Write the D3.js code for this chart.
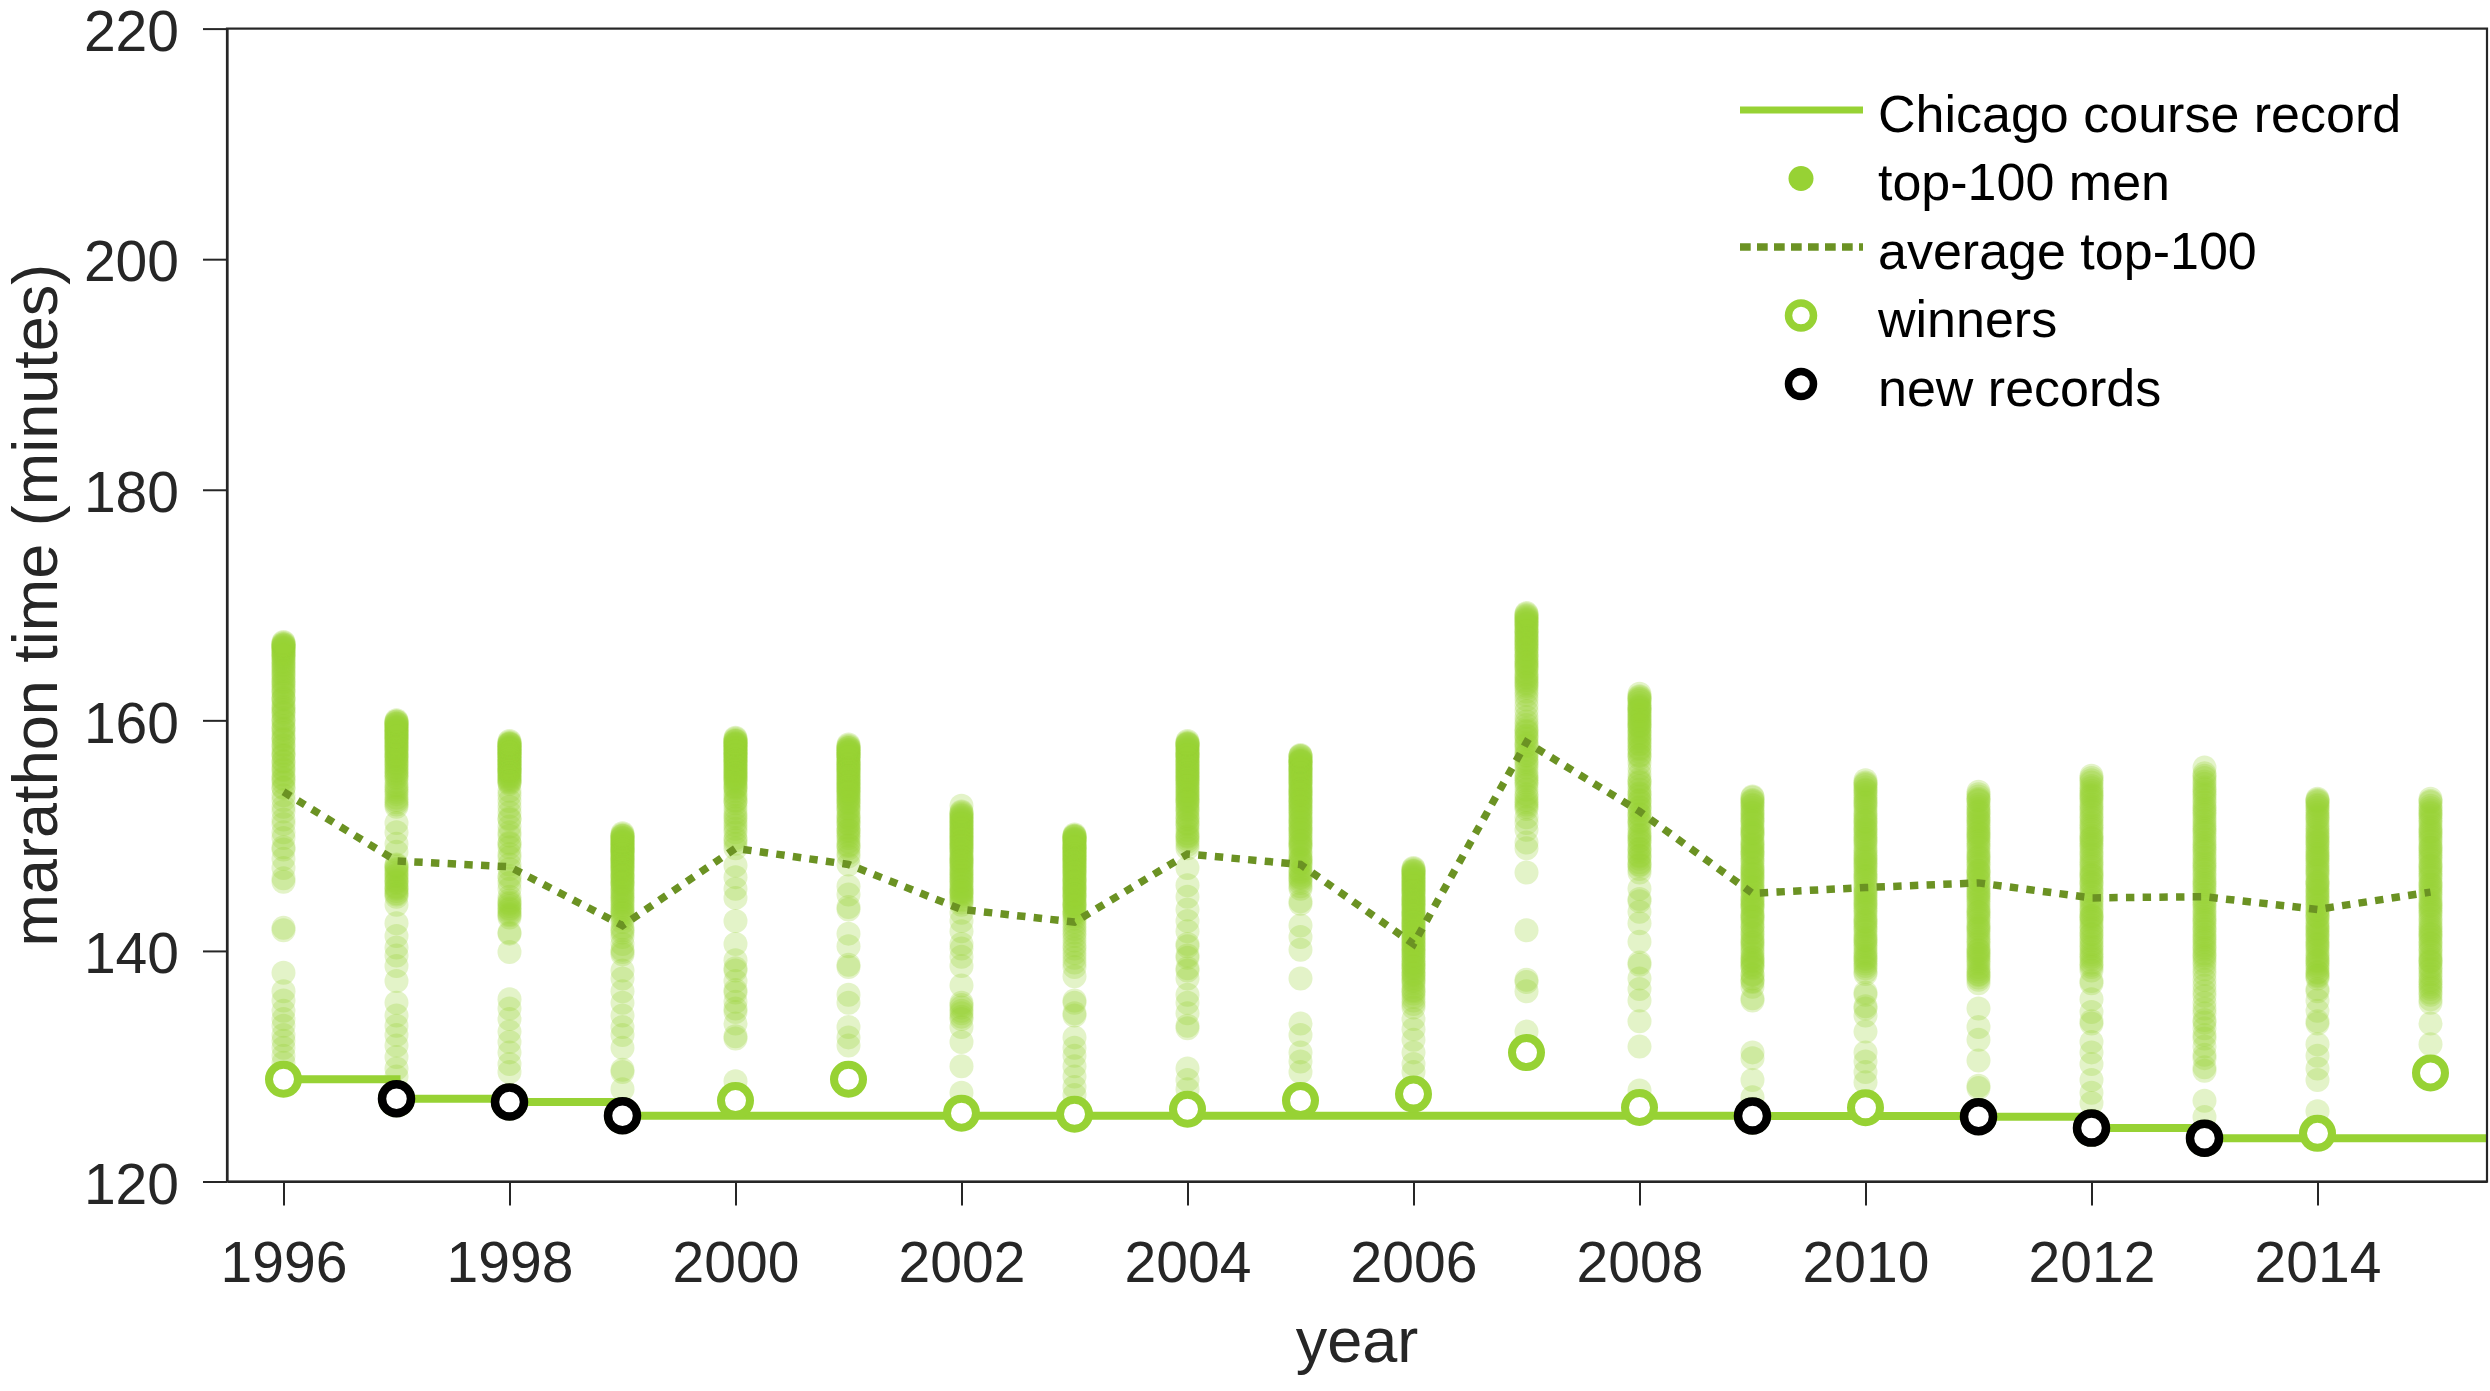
<!DOCTYPE html>
<html>
<head>
<meta charset="utf-8">
<script src="https://cdn.jsdelivr.net/npm/d3@7"></script>
<style>
html,body{margin:0;padding:0;background:#fff;}
svg{display:block;font-family:"Liberation Sans",Arial,Helvetica,sans-serif;}
</style>
</head>
<body>
<svg id="chart" width="2490" height="1391"></svg>
<script>
// ---------------- DATA ----------------
const years = [1996,1997,1998,1999,2000,2001,2002,2003,2004,2005,2006,2007,2008,2009,2010,2011,2012,2013,2014,2015];
const winnerTimes = [128.87,127.17,126.90,125.70,127.02,128.87,125.93,125.83,126.27,127.03,127.58,131.18,126.42,125.68,126.40,125.62,124.63,123.75,124.18,129.42];
const courseRecord = [128.87,127.17,126.90,125.70,125.70,125.70,125.70,125.70,125.70,125.70,125.70,125.70,125.70,125.68,125.68,125.62,124.63,123.75,123.75,123.75];
const newRecordYears = [1997,1998,1999,2009,2011,2012,2013];
const averageTop100 = [153.8,147.8,147.3,142.2,148.9,147.5,143.6,142.5,148.4,147.5,140.6,158.1,152.1,145.0,145.5,145.9,144.6,144.7,143.6,145.1];
const xTickYears = [1996,1998,2000,2002,2004,2006,2008,2010,2012,2014];
const yTickValues = [120,140,160,180,200,220];
const legendLabels = ["Chicago course record","top-100 men","average top-100","winners","new records"];

const top100_1996 = [128.9,130.3,130.9,131.6,132.2,132.7,133.5,134.1,134.8,135.7,136.5,138.1,141.8,142.0,
146.0,146.3,147.2,148.0,148.8,149.0,149.8,150.3,151.0,151.4,152.1,152.5,153.1,153.5,
154.1,154.2,154.6,154.9,155.0,155.3,155.7,155.8,156.1,156.4,156.5,156.9,157.0,157.2,157.5,157.8,157.9,158.3,158.4,158.6,
158.9,159.2,159.3,159.5,159.9,160.0,160.2,160.6,160.7,160.9,161.1,161.2,161.5,161.8,161.9,162.0,162.4,162.5,162.7,162.9,
163.1,163.3,163.4,163.6,163.8,164.0,164.1,164.3,164.5,164.6,164.8,164.9,165.1,165.2,165.4,165.5,165.7,165.8,165.9,166.0,
166.1,166.2,166.3,166.4,166.5,166.5,166.6,166.6,166.7,166.8,166.3,165.6];
const top100_1997 = [127.2,129.1,129.8,130.8,131.8,132.7,133.5,134.4,135.5,137.4,138.7,139.6,140.3,141.3,142.4,144.0,
144.7,144.9,145.0,145.2,145.4,145.5,145.6,145.9,146.0,146.1,146.3,146.5,146.6,146.8,147.0,147.1,147.3,147.4,147.5,
148.6,149.3,150.3,151.1,152.5,152.7,152.9,153.1,153.3,153.6,153.8,154.0,154.2,154.4,154.7,
155.0,155.1,155.3,155.4,155.6,155.7,155.9,156.0,156.2,156.3,156.4,156.6,156.7,156.9,157.0,157.1,157.3,157.4,157.5,157.7,
157.8,157.9,158.0,158.2,158.3,158.4,158.5,158.6,158.7,158.8,158.9,159.0,159.1,159.2,159.3,159.4,159.5,159.6,159.7,159.8,
159.9,160.0,156.8,157.6,158.1,158.6,159.0,159.4,159.7,159.9];
const top100_1998 = [126.9,129.5,130.2,131.2,132.1,133.0,134.1,135.0,135.8,139.9,141.5,141.6,
142.9,143.1,143.2,143.4,143.6,143.7,143.9,144.1,144.2,144.4,144.7,
145.4,145.9,146.3,146.5,147.1,147.5,148.1,148.4,149.0,149.3,149.4,150.0,150.3,150.8,151.4,151.5,152.0,152.5,153.0,153.5,153.9,
154.5,154.6,154.8,154.9,155.0,155.2,155.3,155.5,155.6,155.7,155.8,156.0,156.1,156.2,156.4,156.5,156.6,156.7,156.8,157.0,
157.1,157.2,157.3,157.4,157.5,157.6,157.7,157.8,157.9,158.0,158.1,158.2,155.4,155.9,156.3,156.9,157.3,157.6,157.9,158.0,
156.1,155.1,154.7,157.0,157.5,156.6,155.8,157.2,156.4,157.7,155.6,156.8];
const top100_1999 = [125.7,128.0,129.5,129.7,131.6,132.7,133.4,134.4,135.5,136.5,137.6,138.3,139.7,139.9,140.1,140.6,141.2,141.6,141.8,142.0,142.5,
142.8,143.0,143.3,143.5,143.6,143.8,144.0,144.2,144.5,144.7,144.8,145.0,145.2,145.3,145.5,145.7,145.8,146.0,146.1,146.3,
146.4,146.6,146.7,146.9,147.0,147.2,147.3,147.4,147.6,147.7,147.8,148.0,148.1,148.2,148.3,148.5,148.6,148.7,148.8,148.9,
149.0,149.1,149.2,149.3,149.4,149.5,149.6,149.7,149.8,149.9,150.0,150.1,150.2,
147.5,148.4,149.0,149.5,148.8,147.9,146.5,145.9,144.4,143.2,149.3,148.0,150.0,149.8,148.6,147.1];
const top100_2000 = [127.0,128.7,132.4,132.6,133.7,134.7,135.0,135.6,136.4,136.6,137.4,138.3,138.5,139.2,140.6,142.6,144.6,145.4,146.4,147.4,
148.9,149.3,149.8,150.3,150.6,151.2,151.5,152.0,152.4,152.8,153.1,153.4,153.6,153.9,154.1,154.3,154.5,154.7,154.9,155.0,
155.2,155.3,155.5,155.6,155.8,155.9,156.1,156.2,156.3,156.5,156.6,156.7,156.8,157.0,157.1,157.2,157.3,157.4,157.6,157.7,
157.8,157.9,158.0,158.1,158.2,158.3,158.4,158.5,
156.0,156.9,157.5,155.4,154.8,157.9,158.2,156.4,155.7,157.0,153.0,151.7,150.9,149.6,156.6,157.6,158.0,155.1,154.2,157.3];
const top100_2001 = [128.9,131.8,132.5,133.4,135.5,136.2,138.6,138.8,140.4,141.5,143.6,143.8,144.9,145.6,147.5,
148.2,148.5,148.9,149.2,149.5,149.8,150.2,150.5,150.7,151.0,151.3,151.5,151.8,152.1,152.3,152.6,152.8,153.0,153.2,153.4,
153.6,153.8,154.0,154.2,154.4,154.5,154.7,154.9,155.0,155.2,155.3,155.5,155.6,155.8,155.9,156.0,156.2,156.3,156.4,156.6,
156.7,156.8,156.9,157.0,157.1,157.2,157.3,157.4,157.5,157.6,157.7,157.8,157.9,
150.0,151.1,152.4,153.3,154.1,154.8,155.4,156.1,156.5,157.0,157.4,155.7,154.6,153.7,152.9,151.6,150.4,149.1,157.6,156.8,
155.1,154.3,153.9,157.2,156.2,155.8];
const top100_2002 = [125.9,127.7,130.0,132.1,133.4,134.1,134.3,134.6,134.8,135.1,135.3,135.5,137.0,138.7,139.5,140.2,140.6,141.7,142.6,143.3,
144.0,144.2,144.5,144.7,144.9,145.1,145.3,145.6,145.8,146.0,146.2,146.4,146.6,146.8,147.0,147.2,147.3,147.5,147.7,147.9,
148.0,148.2,148.4,148.5,148.7,148.9,149.0,149.2,149.3,149.5,149.6,149.8,149.9,150.1,150.2,150.4,150.5,150.7,150.8,150.9,
151.1,151.2,151.4,151.5,151.6,151.8,151.9,152.0,152.1,152.6,
145.0,146.5,147.6,148.8,149.7,150.6,151.3,151.7,150.0,149.1,148.1,146.9,145.5,144.4,151.0,150.3,149.4,147.8,146.1,145.2];
const top100_2003 = [125.8,127.5,128.2,129.1,130.0,130.9,131.6,132.5,134.4,134.6,135.5,135.7,137.8,138.6,
139.0,139.4,139.8,140.2,140.5,140.9,141.3,141.6,141.9,142.2,142.5,142.8,143.0,143.2,143.4,143.6,143.8,144.0,144.2,144.4,
144.6,144.8,145.0,145.2,145.4,145.5,145.7,145.9,146.1,146.2,146.4,146.6,146.7,146.9,147.1,147.2,147.4,147.5,147.7,147.8,
148.0,148.1,148.3,148.4,148.5,148.7,148.8,148.9,149.1,149.2,149.3,149.5,149.6,149.7,149.8,149.9,150.0,150.1,
143.9,144.7,145.6,146.3,147.0,147.6,148.2,148.6,149.0,149.4,150.0,149.7,149.0,148.0,146.8,145.3,144.1,143.3,149.9,148.9,
147.3,146.0,144.9,149.6,148.4,147.9];
const top100_2004 = [126.3,128.0,128.8,129.8,133.3,133.5,134.6,135.5,136.2,137.6,138.3,138.5,139.4,139.6,140.4,140.6,141.7,142.6,143.6,144.7,145.7,147.2,
148.9,149.2,149.5,149.9,150.2,150.5,150.8,151.1,151.4,151.7,152.0,152.2,152.5,152.7,153.0,153.2,153.4,153.6,153.8,154.0,
154.2,154.4,154.6,154.8,155.0,155.1,155.3,155.5,155.6,155.8,155.9,156.1,156.2,156.4,156.5,156.6,156.8,156.9,157.0,157.1,
157.2,157.4,157.5,157.6,157.7,157.8,157.9,158.0,158.1,158.2,
150.0,151.0,152.3,153.1,153.9,154.7,155.4,156.0,156.7,157.3,157.9,155.2,154.3,153.5,152.9,151.5,149.7,157.0,156.3,155.7,154.9,158.0];
const top100_2005 = [127.0,129.5,130.4,131.2,132.7,133.7,137.6,140.1,141.2,142.2,144.1,144.3,
145.4,145.6,145.9,146.1,146.4,146.6,146.9,147.1,147.4,147.6,147.9,148.1,148.4,148.6,148.9,149.1,149.3,149.6,149.8,150.0,
150.3,150.5,150.7,150.9,151.1,151.3,151.6,151.8,152.0,152.2,152.4,152.6,152.8,153.0,153.2,153.4,153.5,153.7,153.9,154.1,
154.2,154.4,154.6,154.7,154.9,155.0,155.2,155.3,155.5,155.6,155.8,155.9,156.0,156.2,156.3,156.4,156.5,156.6,156.7,156.8,
156.9,157.0,
146.8,148.0,149.2,150.2,151.2,152.1,153.1,153.8,154.5,155.1,155.7,156.1,156.5,156.9,155.4,154.0,152.9,151.5,150.6,149.5,
147.7,146.3,156.4,155.8,154.8,153.6,152.5];
const top100_2006 = [127.6,129.5,130.2,131.2,132.3,133.2,134.1,135.1,135.4,135.7,136.0,136.3,136.6,136.9,137.2,137.4,137.7,137.9,138.1,138.3,
138.5,138.7,138.9,139.1,139.3,139.5,139.7,139.9,140.0,140.2,140.4,140.5,140.7,140.9,141.0,141.2,141.4,141.5,141.7,141.8,
142.0,142.1,142.3,142.4,142.6,142.7,142.9,143.0,143.2,143.3,143.5,143.6,143.8,143.9,144.0,144.2,144.3,144.5,144.6,144.7,
144.9,145.0,145.1,145.3,145.4,145.5,145.7,145.8,145.9,146.0,146.2,146.3,146.4,146.5,146.6,146.7,146.8,146.9,147.0,147.1,147.2,
138.0,139.0,140.1,141.1,142.2,143.1,144.1,145.2,146.1,146.9,145.6,144.4,143.4,142.5,141.6,140.6,139.6,138.6,137.5,136.5];
const top100_2007 = [131.2,133.0,136.5,137.3,137.5,141.8,146.8,148.9,149.4,150.5,151.1,151.6,152.3,152.5,152.7,153.1,153.6,154.0,154.4,154.8,
155.2,155.5,155.9,156.2,156.6,156.9,157.2,157.5,157.8,158.1,158.4,158.7,159.0,159.3,159.6,159.9,160.3,160.8,161.3,161.8,
162.2,162.5,162.8,163.0,163.3,163.5,163.8,164.0,164.2,164.5,164.7,164.9,165.1,165.3,165.5,165.7,165.9,166.1,166.3,166.5,
166.6,166.8,167.0,167.2,167.3,167.5,167.6,167.8,167.9,168.1,168.2,168.4,168.5,168.7,168.8,168.9,169.0,169.1,169.2,169.3,
153.4,155.0,156.4,157.9,159.1,163.7,164.6,165.6,166.7,167.7,168.6,163.2,165.0,166.2,167.1,168.3,157.0,154.6,158.6,152.9];
const top100_2008 = [126.4,127.9,131.7,133.9,135.7,136.7,137.6,138.8,139.0,140.8,142.4,143.4,144.3,144.5,145.4,
146.8,147.1,147.4,147.7,148.0,148.3,148.6,148.9,149.2,149.5,149.8,150.1,150.4,150.7,151.0,151.3,151.6,151.9,152.2,152.5,
152.8,153.1,153.4,153.7,154.0,154.3,154.6,154.9,155.3,155.8,156.3,156.7,157.0,157.3,157.6,157.9,158.2,158.4,158.7,158.9,
159.2,159.4,159.7,159.9,160.1,160.3,160.5,160.7,160.9,161.1,161.3,161.5,161.7,161.9,162.1,162.3,
147.5,148.8,150.0,151.2,152.4,153.6,154.7,157.5,158.5,159.5,160.4,161.2,162.0,159.0,160.0,161.0,161.8,158.0,156.9,153.0,
149.6,148.2,151.8,160.8,159.6];
const top100_2009 = [125.7,127.3,128.8,130.7,131.2,135.7,135.9,
136.9,137.3,137.4,137.9,138.0,138.5,138.6,139.1,139.4,139.5,140.0,140.3,140.7,140.8,141.2,141.5,141.6,142.1,142.2,142.7,
143.0,143.1,143.6,143.8,144.2,144.3,144.8,145.1,145.2,145.7,145.9,146.3,146.4,146.9,147.2,147.3,147.8,148.0,148.4,148.5,
149.0,149.3,149.4,149.9,150.1,150.5,150.6,151.1,151.4,151.5,152.0,152.2,152.6,152.7,153.1,153.4,
139.2,140.5,141.9,143.3,144.6,146.1,147.6,148.8,150.2,151.7,152.9,150.8,149.6,148.2,146.7,145.4,144.0,142.5,141.0,139.8,
152.4,150.3,147.0,143.9,138.8,145.5,146.6,148.6,151.2,153.0,137.6,138.9,142.9,144.5,149.1,151.9,153.3];
const top100_2010 = [126.4,128.6,129.5,130.4,131.2,133.0,134.4,135.0,135.2,136.2,136.4,
138.0,138.2,138.7,138.9,139.3,139.6,139.8,140.3,140.5,140.9,141.2,141.4,141.9,142.1,142.5,142.8,143.0,143.5,143.7,144.1,
144.4,144.6,145.1,145.3,145.7,146.0,146.2,146.7,146.9,147.3,147.6,147.8,148.3,148.5,148.9,149.2,149.4,149.9,150.1,150.5,
150.8,151.0,151.5,151.7,152.1,152.4,152.6,153.1,153.3,153.7,154.0,154.2,154.6,154.8,
139.1,140.7,142.3,143.9,145.5,147.1,148.7,150.3,151.9,153.5,154.4,152.9,151.2,149.6,148.0,146.5,145.0,143.3,141.7,140.0,
138.5,147.5,150.6,153.9,144.8,139.4,141.0,142.6,144.2,146.4,148.1,149.7,151.3,152.8,154.5];
const top100_2011 = [125.6,128.1,128.3,130.5,132.3,133.4,135.0,
137.2,137.5,137.9,138.2,138.4,138.9,139.1,139.5,139.8,140.1,140.6,140.8,141.2,141.5,141.7,142.2,142.4,142.9,143.1,143.4,
143.8,144.1,144.5,144.7,145.2,145.4,145.8,146.1,146.4,146.8,147.0,147.5,147.7,148.1,148.4,148.6,149.1,149.3,149.7,150.0,
150.3,150.7,150.9,151.4,151.6,152.0,152.3,152.5,153.0,153.2,153.6,153.8,
138.6,140.3,141.9,143.6,145.0,146.6,148.2,149.9,151.1,152.7,153.4,151.8,150.5,148.9,147.3,145.6,144.3,142.7,141.0,139.3,
137.7,150.2,146.2,142.0,153.1,149.5,144.9,140.0,152.1,147.9,143.3,138.0,151.3,146.9,139.7];
const top100_2012 = [124.6,126.8,127.7,128.8,130.2,131.2,132.1,133.7,133.9,134.7,135.8,137.2,137.4,
138.3,138.6,138.8,139.3,139.5,139.9,140.2,140.4,140.9,141.1,141.5,141.8,142.0,142.5,142.7,143.1,143.4,143.6,144.1,144.3,
144.7,145.0,145.2,145.7,145.9,146.3,146.6,146.8,147.3,147.5,147.9,148.2,148.4,148.9,149.1,149.5,149.8,150.0,150.5,150.7,
151.1,151.4,151.6,152.1,152.3,152.7,153.0,153.2,153.7,153.9,154.3,154.6,154.8,155.2,
139.7,141.4,143.0,144.5,146.0,147.7,149.3,150.9,152.5,154.1,155.0,153.4,151.8,150.2,148.6,147.0,145.4,143.8,142.2,140.6,
139.0,153.5,149.7,146.5,142.9];
const top100_2013 = [123.8,125.6,127.0,129.6,129.9,130.7,131.0,131.7,132.4,132.7,133.3,133.8,134.0,134.6,135.0,135.5,136.1,136.5,137.0,137.5,138.0,138.4,138.8,
139.1,139.4,139.8,140.1,140.3,140.8,141.0,141.4,141.7,141.9,142.4,142.6,143.0,143.3,143.5,144.0,144.2,144.6,144.9,145.1,
145.6,145.8,146.2,146.5,146.7,147.2,147.4,147.8,148.1,148.3,148.8,149.0,149.4,149.7,149.9,150.4,150.6,151.0,151.3,151.5,
152.0,152.2,152.6,152.9,153.1,153.6,153.8,154.2,154.5,154.7,155.2,155.4,155.9,
140.5,142.1,143.8,145.4,147.0,148.6,150.2,151.8,153.4,155.0,154.0,152.4,150.8,149.2,147.6,146.0,144.4,142.8,141.2,139.6];
const top100_2014 = [124.2,126.1,128.8,129.8,130.9,131.9,133.7,133.9,134.8,135.7,136.5,136.7,
137.6,137.9,138.2,138.5,138.7,139.2,139.4,139.8,140.1,140.3,140.8,141.0,141.4,141.7,141.9,142.4,142.6,143.0,143.3,143.5,
144.0,144.2,144.6,144.9,145.1,145.6,145.8,146.2,146.5,146.7,147.2,147.4,147.8,148.1,148.3,148.8,149.0,149.4,149.7,149.9,
150.4,150.6,151.0,151.3,151.5,152.0,152.2,152.6,152.9,153.2,
138.9,140.6,142.2,143.9,145.4,147.0,148.6,150.2,151.8,153.0,152.4,150.8,149.2,147.6,146.0,144.4,142.9,141.2,139.6,138.1,
145.9,149.5,152.7,141.5,144.7,137.8,139.1,140.5,142.0,143.6,145.2,146.9,148.4,150.0,151.6,153.1,148.0,143.1];
const top100_2015 = [129.4,131.9,133.7,
135.5,135.8,136.2,136.4,136.9,137.1,137.5,137.8,138.0,138.5,138.7,139.1,139.4,139.6,140.1,140.3,140.7,141.0,141.2,141.7,
141.9,142.3,142.6,142.8,143.3,143.5,143.9,144.2,144.4,144.9,145.1,145.5,145.8,146.0,146.5,146.7,147.1,147.4,147.6,148.1,
148.3,148.7,149.0,149.2,149.7,149.9,150.3,150.6,150.8,151.3,151.5,151.9,152.2,152.4,152.9,153.2,
137.3,139.0,140.6,142.1,143.7,145.3,146.9,148.5,150.1,151.7,153.0,151.1,149.5,147.9,146.3,144.7,143.1,141.5,139.9,138.3,
136.7,150.4,152.6,145.7,141.4,148.9,144.0,139.2,152.0,147.3];

const top100 = [top100_1996,top100_1997,top100_1998,top100_1999,top100_2000,top100_2001,top100_2002,top100_2003,
  top100_2004,top100_2005,top100_2006,top100_2007,top100_2008,top100_2009,top100_2010,top100_2011,top100_2012,
  top100_2013,top100_2014,top100_2015];

// ---------------- STYLE ----------------
const GREEN = "#97d234";
const OLIVE = "#6b9223";
const AXIS = "#262626";
const plot = {left: 227, right: 2487, top: 28.6, bottom: 1181.5};

const svg = d3.select("#chart");
const x = d3.scaleLinear().domain([1995.5, 2015.5]).range([plot.left, plot.right]);
const y = d3.scaleLinear().domain([120, 220]).range([plot.bottom, plot.top]);

// dots
const dotData = years.flatMap((yr, i) => top100[i].map(t => ({year: yr, time: t})));
svg.append("g").selectAll("circle").data(dotData).join("circle")
  .attr("cx", d => x(d.year)).attr("cy", d => y(d.time)).attr("r", 12)
  .attr("fill", GREEN).attr("fill-opacity", 0.27);

// average line
const avgLine = d3.line().x((d, i) => x(years[i])).y(d => y(d));
svg.append("path").datum(averageTop100).attr("d", avgLine)
  .attr("fill", "none").attr("stroke", OLIVE).attr("stroke-width", 7.5)
  .attr("stroke-dasharray", "8.4 8.3");

// course record step line
const recPts = years.map((yr, i) => [yr, courseRecord[i]]);
recPts.push([x.domain()[1], courseRecord[courseRecord.length - 1]]);
const recLine = d3.line().x(d => x(d[0])).y(d => y(d[1])).curve(d3.curveStepAfter);
svg.append("path").datum(recPts).attr("d", recLine)
  .attr("fill", "none").attr("stroke", GREEN).attr("stroke-width", 8);

// winners
svg.append("g").selectAll("circle").data(years.map((yr, i) => ({year: yr, time: winnerTimes[i]}))).join("circle")
  .attr("cx", d => x(d.year)).attr("cy", d => y(d.time)).attr("r", 14.5)
  .attr("fill", "#fff").attr("stroke", GREEN).attr("stroke-width", 8);

// new records
svg.append("g").selectAll("circle").data(newRecordYears.map(yr => ({year: yr, time: winnerTimes[years.indexOf(yr)]}))).join("circle")
  .attr("cx", d => x(d.year)).attr("cy", d => y(d.time)).attr("r", 14.5)
  .attr("fill", "#fff").attr("stroke", "#000").attr("stroke-width", 8.5);

// box
svg.append("rect").attr("x", plot.left).attr("y", plot.top)
  .attr("width", plot.right - plot.left).attr("height", plot.bottom - plot.top)
  .attr("fill", "none").attr("stroke", AXIS).attr("stroke-width", 2.2);

// axes
const yAxis = svg.append("g").attr("transform", `translate(${plot.left},0)`)
  .call(d3.axisLeft(y).tickValues(yTickValues).tickSize(24).tickSizeOuter(0).tickPadding(24).tickFormat(d3.format("d")));
const xAxis = svg.append("g").attr("transform", `translate(0,${plot.bottom})`)
  .call(d3.axisBottom(x).tickValues(xTickYears).tickSize(24).tickSizeOuter(0).tickPadding(36).tickFormat(d3.format("d")));
[yAxis, xAxis].forEach(g => {
  g.select(".domain").attr("stroke", AXIS).attr("stroke-width", 2.2);
  g.selectAll(".tick line").attr("stroke", AXIS).attr("stroke-width", 2);
  g.selectAll(".tick text").attr("fill", AXIS).style("font-size", "57px")
    .style("font-family", '"Liberation Sans",Arial,Helvetica,sans-serif');
});
yAxis.selectAll(".tick text").attr("dy", "0.38em");

// axis labels
svg.append("text").attr("x", (plot.left + plot.right) / 2).attr("y", 1362)
  .attr("text-anchor", "middle").attr("fill", AXIS).style("font-size", "63px").text("year");
svg.append("text").attr("transform", `translate(57,${(plot.top + plot.bottom) / 2}) rotate(-90)`)
  .attr("text-anchor", "middle").attr("fill", AXIS).style("font-size", "63px").text("marathon time (minutes)");

// legend
const leg = svg.append("g");
const lx0 = 1740, lx1 = 1863, lmark = 1801, ltext = 1878, ly0 = 110, ldy = 68.5;
legendLabels.forEach((lab, i) => {
  const cy = ly0 + i * ldy;
  leg.append("text").attr("x", ltext).attr("y", cy + 21.5).attr("fill", "#000")
    .style("font-size", "52px").text(lab);
});
leg.append("line").attr("x1", lx0).attr("x2", lx1).attr("y1", ly0).attr("y2", ly0)
  .attr("stroke", GREEN).attr("stroke-width", 7);
leg.append("circle").attr("cx", lmark).attr("cy", ly0 + ldy).attr("r", 12.5).attr("fill", GREEN);
leg.append("line").attr("x1", lx0).attr("x2", lx1).attr("y1", ly0 + 2 * ldy).attr("y2", ly0 + 2 * ldy)
  .attr("stroke", OLIVE).attr("stroke-width", 7.5).attr("stroke-dasharray", "10.7 6.3");
leg.append("circle").attr("cx", lmark).attr("cy", ly0 + 3 * ldy).attr("r", 12.5)
  .attr("fill", "#fff").attr("stroke", GREEN).attr("stroke-width", 7.5);
leg.append("circle").attr("cx", lmark).attr("cy", ly0 + 4 * ldy).attr("r", 12.5)
  .attr("fill", "#fff").attr("stroke", "#000").attr("stroke-width", 7.5);
</script>
</body>
</html>
